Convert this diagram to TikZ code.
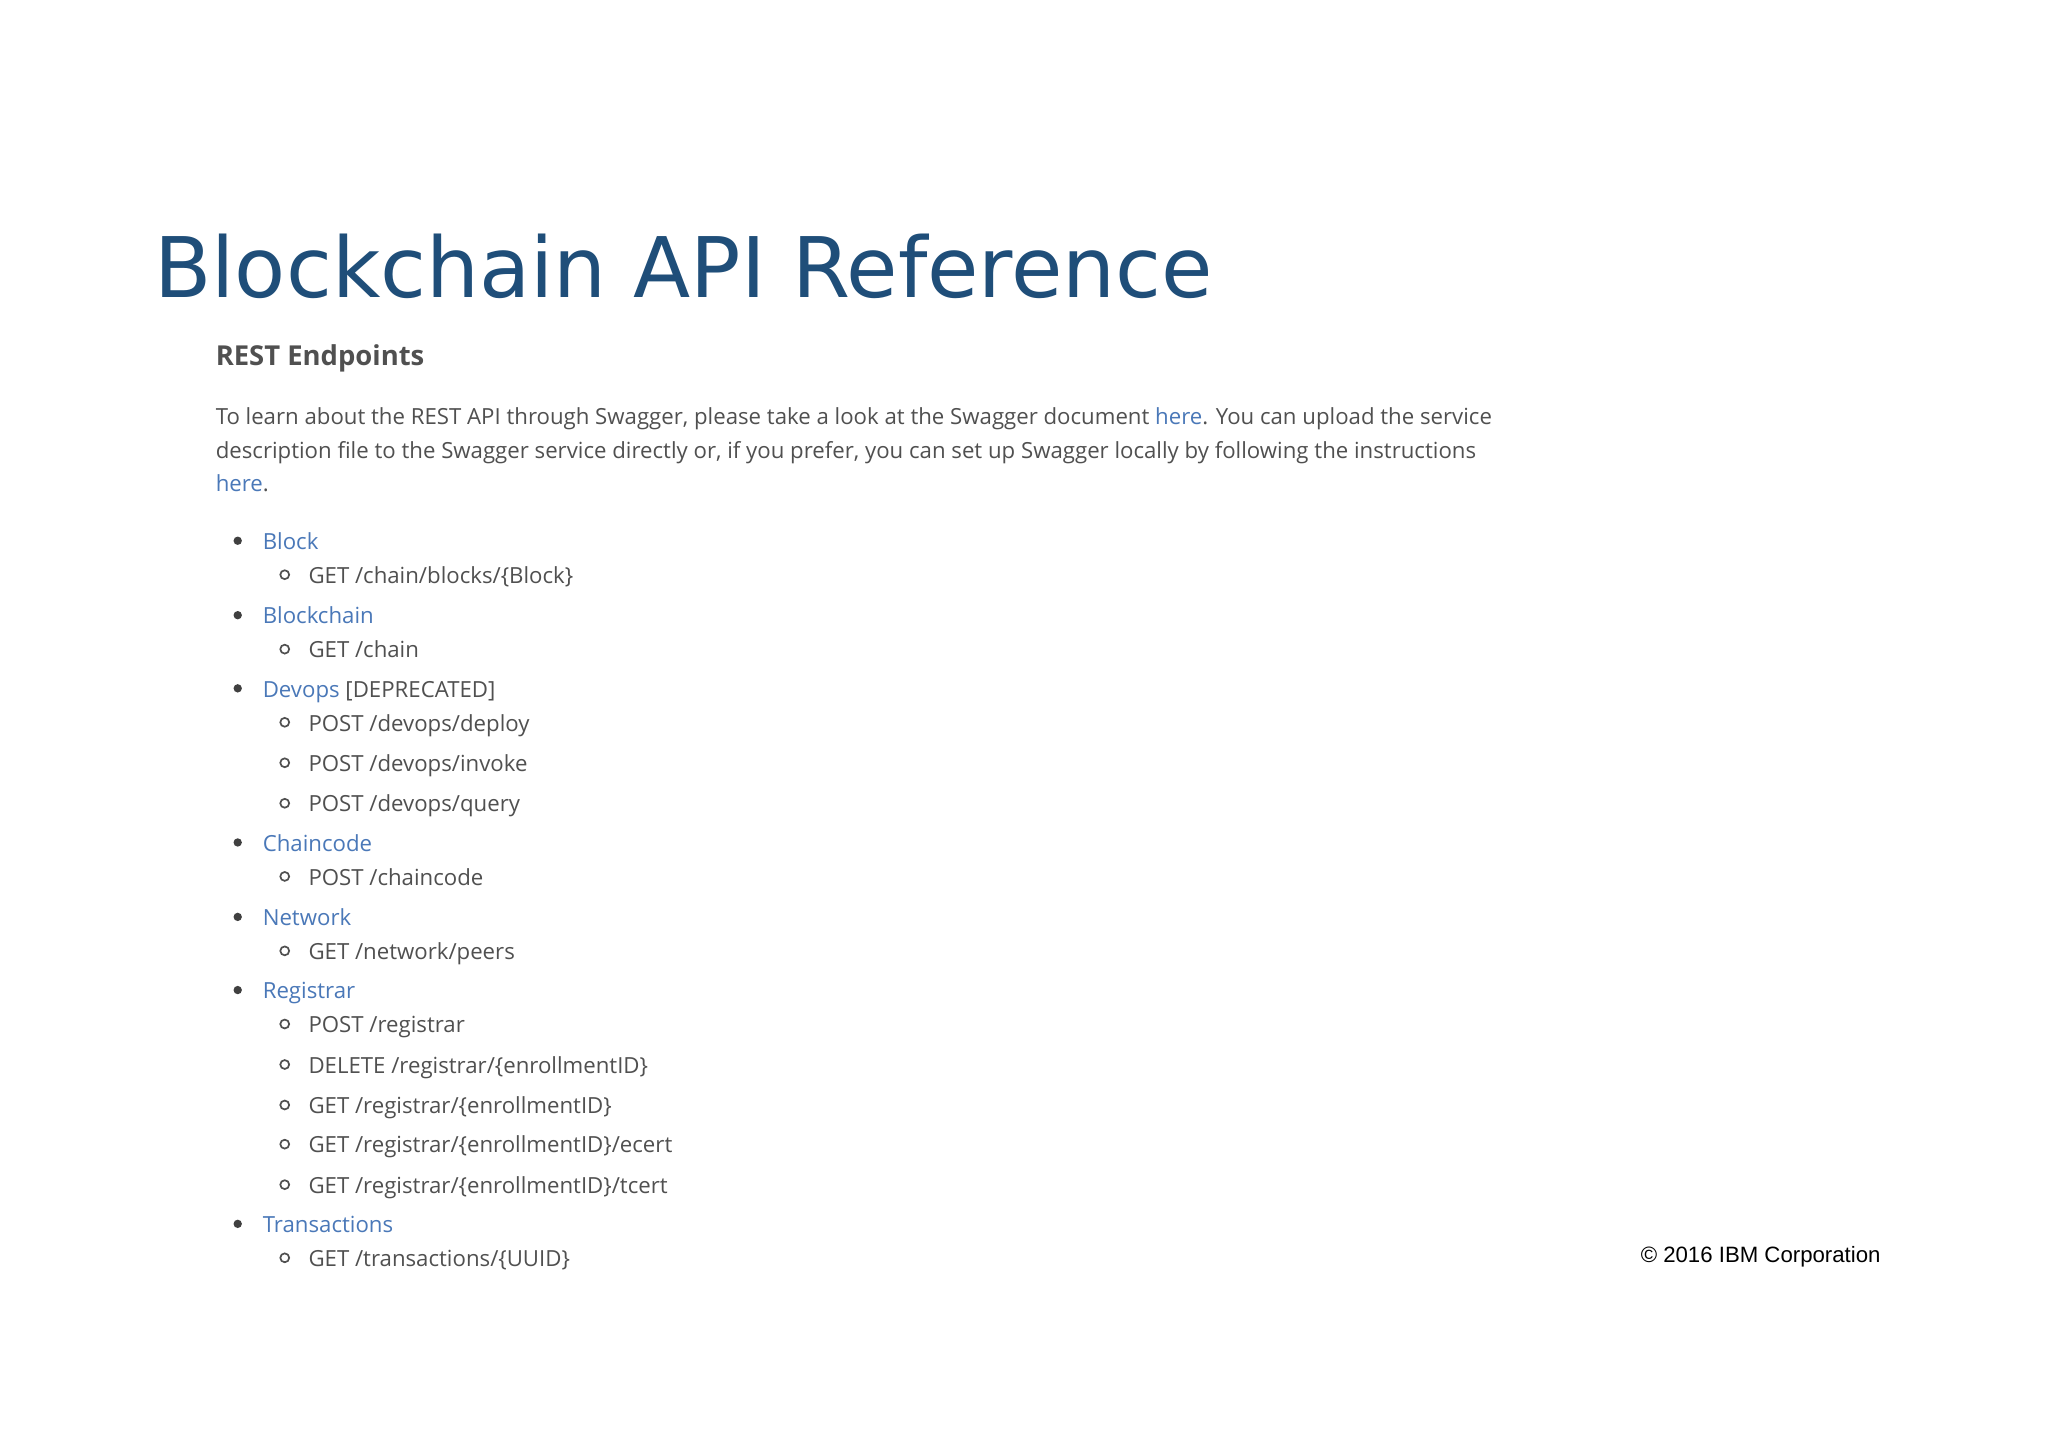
\documentclass[tikz,border=0pt]{standalone}
\usepackage{fontspec}
\setmainfont{Open Sans}
\newfontfamily\titlefont{DejaVu Sans}
\newfontfamily\arialfont{Liberation Sans}
\definecolor{titleblue}{HTML}{1F4E79}
\definecolor{linkblue}{HTML}{4A78B8}
\definecolor{bodygray}{HTML}{505050}
\begin{document}
\begin{tikzpicture}[x=1pt,y=-1pt,
  body/.style={anchor=mid west,inner sep=0pt,text=bodygray,font=\fontsize{17}{20}\selectfont},
  link/.style={body,text=linkblue},
  bul/.style={fill=bodygray!80!black,draw=none},
  sub/.style={draw=bodygray,line width=1.3pt,fill=none}]
\useasboundingbox (0,0) rectangle (1568,1108);
\fill[white] (0,0) rectangle (1568,1108);
\node[anchor=base west,inner sep=0pt,text=titleblue,font=\titlefont\fontsize{64}{72}\selectfont] (title) at (118,228) {Blockchain API Reference};
\begin{scope}[yshift=-4pt]
\node[body,font=\fontsize{21}{24}\selectfont\bfseries] (rest) at (165,273) {REST Endpoints};
\node[body] (p1) at (165,318) {To learn about the REST API through Swagger, please take a look at the Swagger document \textcolor{linkblue}{here}. You can upload the service};
\node[body] (p2) at (165,344) {description file to the Swagger service directly or, if you prefer, you can set up Swagger locally by following the instructions};
\node[link] (p3) at (165,370) {here\textcolor{bodygray}{.}};
\end{scope}
\foreach \y/\t [count=\i] in {414/Block,471/Blockchain,645/Chaincode,702/Network,758/Registrar,937/Transactions}{
  \fill[bul] (182,\y) circle (3.2);
  \node[link,yshift=-4pt] (m\i) at (201,\y) {\t};
}
\fill[bul] (182,527) circle (3.2);
\node[link,yshift=-4pt] (dev) at (201,527) {Devops \textcolor{bodygray}{[DEPRECATED]}};
\foreach \y/\t [count=\i] in {440/{GET /chain/blocks/\{Block\}},497/{GET /chain},553/{POST /devops/deploy},584/{POST /devops/invoke},615/{POST /devops/query},671/{POST /chaincode},728/{GET /network/peers},784/{POST /registrar},815/{DELETE /registrar/\{enrollmentID\}},846/{GET /registrar/\{enrollmentID\}},876/{GET /registrar/\{enrollmentID\}/ecert},907/{GET /registrar/\{enrollmentID\}/tcert},963/{GET /transactions/\{UUID\}}}{
  \draw[sub] (218,\y) circle (3.4);
  \node[body,yshift=-4pt] (s\i) at (236,\y) {\t};
}
\node[anchor=mid west,inner sep=0pt,yshift=-4pt,font=\arialfont\fontsize{17}{20}\selectfont] (copy) at (1256,960) {© 2016 IBM Corporation};
\end{tikzpicture}
\end{document}
